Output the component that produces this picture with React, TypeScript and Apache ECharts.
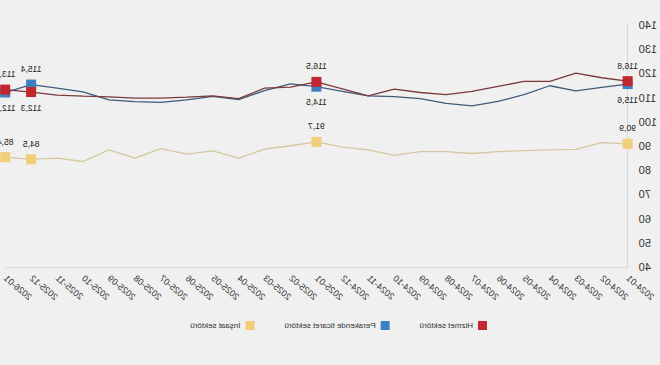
import React, { useEffect, useRef } from "react";
import * as echarts from "echarts";

const categories = [
  "2024-01", "2024-02", "2024-03", "2024-04", "2024-05", "2024-06", "2024-07",
  "2024-08", "2024-09", "2024-10", "2024-11", "2024-12", "2025-01", "2025-02",
  "2025-03", "2025-04", "2025-05", "2025-06", "2025-07", "2025-08", "2025-09",
  "2025-10", "2025-11", "2025-12", "2026-01",
];

const hizmet = [
  116.8, 118.2, 120.1, 116.7, 116.7, 114.6, 112.6, 111.2, 112.1, 113.5, 110.7, 113.6,
  116.5, 114.3, 113.9, 109.6, 110.7, 110.2, 109.8, 109.8, 110.3, 110.6, 111.0, 112.3, 113.3,
];

const perakende = [
  115.6, 114.2, 112.8, 114.9, 111.2, 108.4, 106.6, 107.6, 109.6, 110.4, 110.7, 112.6,
  114.5, 115.7, 112.9, 109.2, 110.5, 109.1, 108.0, 108.3, 109.1, 112.4, 113.9, 115.4, 112.1,
];

const insaat = [
  90.9, 91.4, 88.6, 88.4, 88.1, 87.7, 86.9, 87.7, 87.7, 86.1, 88.4, 89.5,
  91.7, 90.1, 88.7, 85.0, 88.0, 86.6, 88.9, 85.0, 88.4, 83.6, 85.0, 84.5, 85.4,
];

const seriesNames = ["Hizmet sektörü", "Perakende ticaret sektörü", "İnşaat sektörü"];

const markedIndices = [0, 12, 23, 24];
const hizmetLabelPos = ["top", "top", "bottom", "top"];
const perakendeLabelPos = ["bottom", "bottom", "top", "bottom"];
const insaatLabelPos = ["top", "top", "top", "top"];

const yMin = 40;
const yMax = 140;
const yInterval = 10;

const fmt = (v: number) => v.toFixed(1).replace(".", ",");

function buildData(values: number[], positions: string[]) {
  return values.map((v, i) => {
    const k = markedIndices.indexOf(i);
    if (k < 0) return { value: v, symbol: "none" };
    return {
      value: v,
      symbol: "rect",
      label: { show: true, position: positions[k] },
    };
  });
}

const FONT = "Arial, 'Liberation Sans', sans-serif";

export default function App() {
  const ref = useRef<HTMLDivElement>(null);

  useEffect(() => {
    if (!ref.current) return;
    const chart = echarts.init(ref.current, undefined, { renderer: "svg" });

    const labelBase = {
      show: false,
      formatter: (p: any) => fmt(p.value),
      fontSize: 8.5,
      color: "#222",
      distance: 6,
      fontFamily: FONT,
    };

    const mk = (
      name: string,
      values: number[],
      positions: string[],
      itemColor: string,
      lineColor: string,
      z: number
    ) => ({
      name,
      type: "line",
      data: buildData(values, positions),
      symbol: "rect",
      symbolSize: 10,
      showSymbol: true,
      z,
      itemStyle: { color: itemColor },
      lineStyle: { color: lineColor, width: 1.3 },
      label: labelBase,
      emphasis: { disabled: true },
    });

    chart.setOption({
      animation: false,
      backgroundColor: "#f0f0f0",
      textStyle: { fontFamily: FONT },
      grid: { left: 23, right: 3, top: 25, bottom: 98, containLabel: false },
      legend: {
        top: 316,
        left: 168,
        icon: "rect",
        itemWidth: 9,
        itemHeight: 9,
        itemGap: 30,
        data: seriesNames,
        textStyle: { fontSize: 8, color: "#333", fontFamily: FONT },
      },
      xAxis: {
        type: "category",
        data: categories,
        boundaryGap: false,
        axisLine: { show: true, lineStyle: { color: "#d6d6d6" } },
        axisTick: { show: false },
        axisLabel: {
          interval: 0,
          rotate: 40,
          fontSize: 9,
          color: "#333",
          margin: 10,
          fontFamily: FONT,
        },
        splitLine: { show: false },
      },
      yAxis: {
        type: "value",
        min: yMin,
        max: yMax,
        interval: yInterval,
        axisLine: { show: true, lineStyle: { color: "#d6d6d6" } },
        axisTick: { show: false },
        axisLabel: { fontSize: 11, color: "#333", margin: 11, fontFamily: FONT },
        splitLine: { show: false },
      },
      series: [
        mk(seriesNames[0], hizmet, hizmetLabelPos, "#c1272d", "#7a3a3c", 4),
        mk(seriesNames[1], perakende, perakendeLabelPos, "#3d7fc0", "#3f5b7a", 3),
        mk(seriesNames[2], insaat, insaatLabelPos, "#f2cd7a", "#d6c79f", 2),
      ],
    });

    return () => chart.dispose();
  }, []);

  return (
    <div
      ref={ref}
      style={{
        position: "absolute",
        left: 0,
        top: 0,
        width: 660,
        height: 365,
        transform: "scaleX(-1)",
      }}
    />
  );
}
